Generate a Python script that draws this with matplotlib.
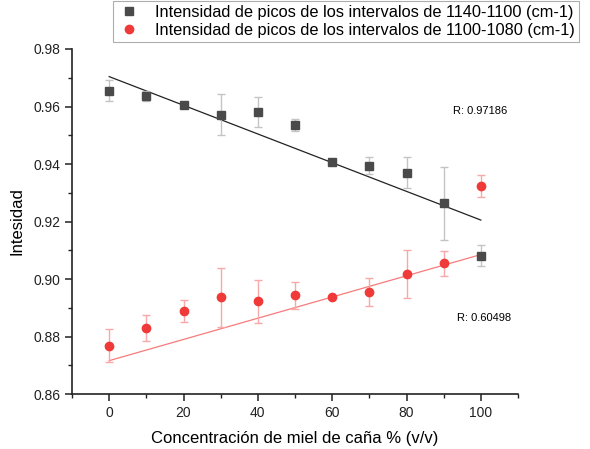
import matplotlib
matplotlib.use("Agg")
import matplotlib.pyplot as plt
from matplotlib.ticker import MultipleLocator
from matplotlib.lines import Line2D
import numpy as np

plt.rcParams['font.family'] = ['Liberation Sans', 'DejaVu Sans']

conc = [0, 10, 20, 30, 40, 50, 60, 70, 80, 90, 100]
int_1140 = [0.9655, 0.9637, 0.9605, 0.9571, 0.9580, 0.9536, 0.9406, 0.9394, 0.9370, 0.9263, 0.9081]
err_1140 = [0.0036, 0.0017, 0.0004, 0.0071, 0.0053, 0.0020, 0.0003, 0.0030, 0.0055, 0.0126, 0.0036]
int_1100 = [0.8768, 0.8829, 0.8888, 0.8936, 0.8922, 0.8943, 0.8938, 0.8955, 0.9018, 0.9054, 0.9324]
err_1100 = [0.0058, 0.0046, 0.0039, 0.0103, 0.0074, 0.0048, 0.0003, 0.0050, 0.0083, 0.0044, 0.0039]
fit_1140 = (0.9704, -0.000499)   # intercept, slope
fit_1100 = (0.8716, 0.000369)
r_1140 = "R: 0.97186"
r_1100 = "R: 0.60498"
label_1140 = "Intensidad de picos de los intervalos de 1140-1100 (cm-1)"
label_1100 = "Intensidad de picos de los intervalos de 1100-1080 (cm-1)"

W, H = 590, 449
fig = plt.figure(figsize=(W/100, H/100), dpi=100)
ax = fig.add_axes([72/W, 1-394/H, (518-72)/W, (394-49)/H])

x = np.array(conc)
xf = np.array([x.min(), x.max()])
ax.plot(xf, fit_1140[0] + fit_1140[1]*xf, color='#222222', lw=0.9, zorder=2)
ax.plot(xf, fit_1100[0] + fit_1100[1]*xf, color='#f77b7b', lw=0.9, zorder=2)

c1, c2 = '#4a4a4a', '#f03a3a'
ax.errorbar(conc, int_1140, yerr=err_1140, fmt='s', color=c1, ms=5.2,
            ecolor='#c4c4c4', elinewidth=1.0, capsize=3, capthick=1.0, zorder=3)
ax.errorbar(conc, int_1100, yerr=err_1100, fmt='o', color=c2, ms=6,
            ecolor='#f7a8a8', elinewidth=1.0, capsize=3, capthick=1.0, zorder=3)

ax.set_xlim(-10, 110)
ax.set_ylim(0.86, 0.98)
ax.xaxis.set_major_locator(MultipleLocator(20))
ax.xaxis.set_minor_locator(MultipleLocator(10))
ax.yaxis.set_major_locator(MultipleLocator(0.02))
ax.yaxis.set_minor_locator(MultipleLocator(0.01))
ax.yaxis.set_major_formatter(plt.FormatStrFormatter('%.2f'))
ax.spines['top'].set_visible(False)
ax.spines['right'].set_visible(False)
for s in ('left', 'bottom'):
    ax.spines[s].set_linewidth(1.2)
    ax.spines[s].set_color('#222222')
ax.tick_params(which='major', direction='out', length=5, width=1.1, labelsize=10, colors='#222222')
ax.tick_params(which='minor', direction='out', length=3, width=1.0, colors='#222222')

ax.set_xlabel("Concentración de miel de caña % (v/v)", fontsize=12, labelpad=8)
ax.set_ylabel("Intesidad", fontsize=12, labelpad=6)

ax.text(453, H-111, r_1140, transform=None, fontsize=8, va='center', ha='left')
ax.text(457, H-318, r_1100, transform=None, fontsize=8, va='center', ha='left')

handles = [Line2D([], [], ls='none', marker='s', color=c1, ms=5.2),
           Line2D([], [], ls='none', marker='o', color=c2, ms=6)]
leg = fig.legend(handles, [label_1140, label_1100], loc='upper right',
                 bbox_to_anchor=(579/W, 1-1/H),
                 fontsize=11.8, frameon=True, fancybox=False, borderpad=0.25,
                 handletextpad=0.9, labelspacing=0.15, handlelength=1.4,
                 borderaxespad=0)
leg.get_frame().set_edgecolor('#999999')
leg.get_frame().set_linewidth(0.8)

fig.savefig("out.png", dpi=100)
